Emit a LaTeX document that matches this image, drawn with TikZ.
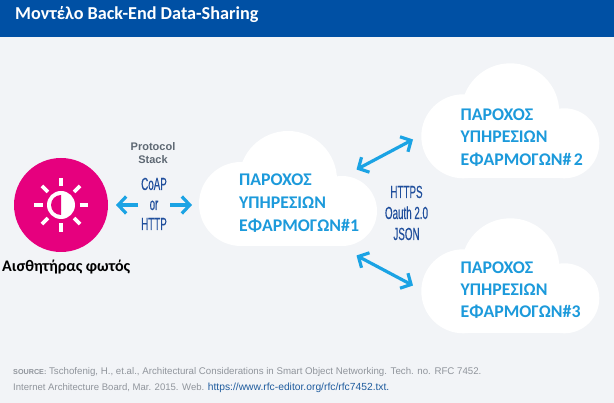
\documentclass[tikz,border=0pt]{standalone}
\usepackage{fontspec}
\setmainfont{Liberation Sans}
\newfontfamily\carl{Carlito}
\newfontfamily\cond[FakeStretch=0.56,FakeBold=0.25]{Liberation Sans}
\usetikzlibrary{arrows.meta}
\definecolor{bgc}{HTML}{F2F4F7}
\definecolor{hdr}{HTML}{0050A4}
\definecolor{sky}{HTML}{1BA3E4}
\definecolor{skytxt}{HTML}{1C9ADB}
\definecolor{magen}{HTML}{E6007E}
\definecolor{proto}{HTML}{5E6873}
\definecolor{navy}{HTML}{1F4E9C}
\definecolor{foot}{HTML}{90959C}
\definecolor{linkc}{HTML}{1F5C9E}
\tikzset{
  x=1pt,y=-1pt,
  cloudtxt/.style={inner sep=0,anchor=base west,text=skytxt,font=\carl\bfseries\fontsize{17.8}{17.8}\selectfont},
  condtxt/.style={inner sep=0,anchor=base,text=navy,font=\cond\fontsize{17.5}{17.5}\selectfont},
  prototxt/.style={inner sep=0,anchor=base,text=proto,font=\bfseries\fontsize{11}{11}\selectfont},
  foottxt/.style={inner sep=0,anchor=base west,text=foot,font=\fontsize{9.7}{9.7}\selectfont},
  biarrow/.style={draw=sky,line width=3.2pt,{Straight Barb[length=8pt,width=17pt,line width=3.2pt]}-{Straight Barb[length=8pt,width=17pt,line width=3.2pt]}},
  uniarrow/.style={draw=sky,line width=3.2pt,-{Straight Barb[length=8pt,width=17pt,line width=3.2pt]}},
  ray/.style={draw=white,line width=3.6pt}
}
\newcommand{\cloudat}[2]{%
  \begin{scope}[shift={(#1,#2)}]
    \fill[white] (288,180) circle[radius=49];
    \fill[white] (241,204) circle[radius=42];
    \fill[white] (342,211) circle[radius=35];
    \fill[white] (241,190) rectangle (342,246);
  \end{scope}}
\begin{document}
\begin{tikzpicture}
\useasboundingbox (0,0) rectangle (614,403);
\fill[bgc] (0,0) rectangle (614,403);
\fill[hdr] (0,0) rectangle (614,37);
\node[inner sep=0,anchor=base west,text=white,font=\carl\bfseries\fontsize{18.2}{18.2}\selectfont] (title) at (15,20) {Μοντέλο Back-End Data-Sharing};

% sensor
\fill[magen] (61,205) circle[radius=47];
\foreach \a in {0,45,...,315}{
  \draw[ray] (61,205)++(\a:18.5) -- ++(\a:8.5);
}
\fill[white] (61,205) circle[radius=14];
\fill[magen] (61,195) arc[start angle=-90,end angle=-270,radius=10] -- cycle;
\node[inner sep=0,anchor=base west,font=\carl\bfseries\fontsize{16.1}{16.1}\selectfont] (sensor) at (2,272) {Αισθητήρας φωτός};

% protocol
\node[prototxt] (p1) at (153,151) {Protocol};
\node[prototxt] (p2) at (153,164) {Stack};
\node[condtxt] (coap) at (154,190) {CoAP};
\node[condtxt] (or) at (154,210) {or};
\node[condtxt] (http) at (154,230) {HTTP};
\coordinate (la) at (138,205);
\coordinate (lb) at (116,205);
\coordinate (ra) at (170,205);
\coordinate (rb) at (192,205);
\draw[uniarrow] (la) -- (lb);
\draw[uniarrow] (ra) -- (rb);

% clouds
\cloudat{0}{0}
\cloudat{222.3}{-67.7}
\cloudat{222.3}{87.3}

\node[cloudtxt] (a1) at (239,186) {ΠΑΡΟΧΟΣ};
\node[cloudtxt] (a2) at (239,209) {ΥΠΗΡΕΣΙΩΝ};
\node[cloudtxt] (a3) at (239,232) {ΕΦΑΡΜΟΓΩΝ\#1};
\node[cloudtxt] (b1) at (460.5,121) {ΠΑΡΟΧΟΣ};
\node[cloudtxt] (b2) at (460.5,143) {ΥΠΗΡΕΣΙΩΝ};
\node[cloudtxt] (b3) at (460.5,165.5) {ΕΦΑΡΜΟΓΩΝ\#\kern2.5pt 2};
\node[cloudtxt] (c1) at (460.5,273.5) {ΠΑΡΟΧΟΣ};
\node[cloudtxt] (c2) at (460.5,296) {ΥΠΗΡΕΣΙΩΝ};
\node[cloudtxt] (c3) at (460.5,318) {ΕΦΑΡΜΟΓΩΝ\#3};

% links
\coordinate (h1) at (356.5,169.5);
\coordinate (h2) at (413,139.5);
\coordinate (h3) at (356.5,255.5);
\coordinate (h4) at (413,285.5);
\draw[biarrow] (h1) -- (h2);
\draw[biarrow] (h3) -- (h4);
\node[condtxt] (s1) at (406.5,198) {HTTPS};
\node[condtxt] (s2) at (406.5,219) {Oauth 2.0};
\node[condtxt] (s3) at (406.5,240) {JSON};

% footer
\node[foottxt] (f1) at (13,375) {{\bfseries\fontsize{7.2}{7.2}\selectfont SOURCE:} Tschofenig, H., et.al., Architectural Considerations in Smart Object Networking. Tech. no. RFC 7452.};
\node[foottxt] (f2) at (13,391) {{\fontsize{9.55}{9.55}\selectfont Internet Architecture Board, Mar. 2015. Web.} \textcolor{linkc}{\fontsize{10.3}{10.3}\selectfont https://www.rfc-editor.org/rfc/rfc7452.txt.}};
\end{tikzpicture}
\end{document}
